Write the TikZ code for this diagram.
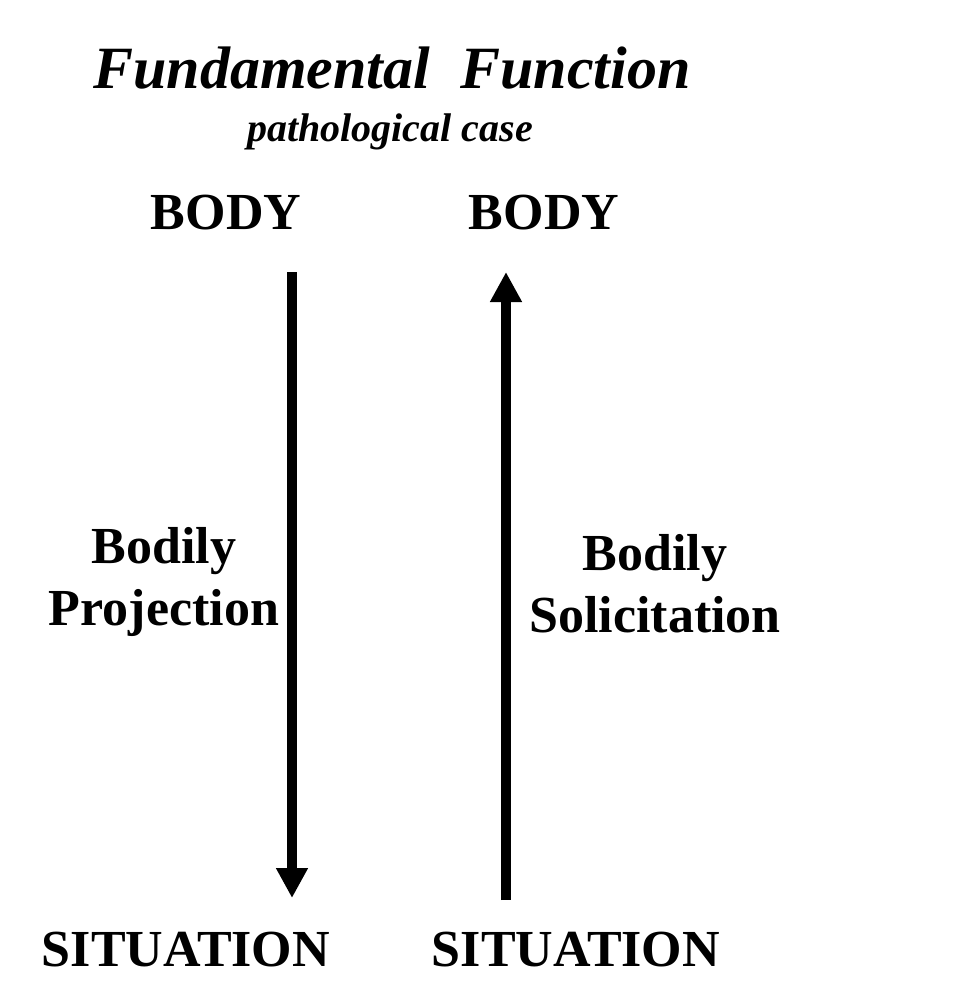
\documentclass[tikz,border=0pt]{standalone}
\usepackage{fontspec}
\setmainfont{Liberation Serif}
\usetikzlibrary{arrows.meta}
\begin{document}
\begin{tikzpicture}[x=0.5pt,y=-0.5pt,
  lbl/.style={font=\fontsize{26}{30}\selectfont\bfseries, inner sep=0pt},
  two/.style={lbl, align=center, font=\fontsize{26}{31}\selectfont\bfseries},
  arr/.style={line width=5pt, -{Triangle[length=15pt,width=15pt]}}]
\useasboundingbox (0,0) rectangle (967,993);
\node[inner sep=0pt, font=\fontsize{30}{34}\selectfont\bfseries\itshape] (t) at (392,68) {Fundamental\ \ Function};
\node[inner sep=0pt, font=\fontsize{20}{24}\selectfont\bfseries\itshape] (s) at (390,132) {pathological case};
\node[lbl] (b1) at (226,213) {BODY};
\node[lbl] (b2) at (544,213) {BODY};
\node[lbl] (s1) at (186,950) {SITUATION};
\node[lbl] (s2) at (576,950) {SITUATION};
\node[two] (p) at (164,582) {Bodily\\Projection};
\node[two] (q) at (655,584) {Bodily\\Solicitation};
\coordinate (a1) at (292,272); \coordinate (a2) at (292,898);
\coordinate (c1) at (506,900); \coordinate (c2) at (506,272);
\draw[arr] (a1) -- (a2);
\draw[arr] (c1) -- (c2);
\end{tikzpicture}
\end{document}
